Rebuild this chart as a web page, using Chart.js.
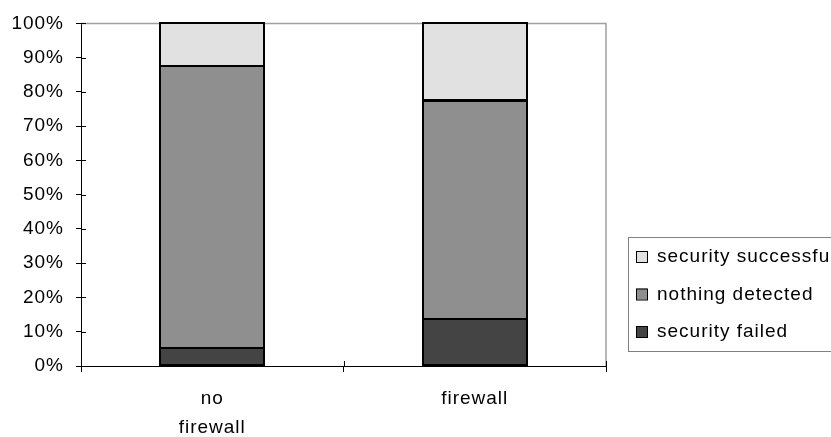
<!DOCTYPE html>
<html>
<head>
<meta charset="utf-8">
<script src="https://cdn.jsdelivr.net/npm/chart.js@4"></script>
<style>
  html, body { margin: 0; padding: 0; background: #fff; }
  #wrap { width: 831px; height: 437px; }
</style>
</head>
<body>
<div id="wrap"><canvas id="secChart" width="831" height="437"></canvas></div>
<script>
// categories and shares (%) per outcome
const categories = [['no', 'firewall'], 'firewall'];
const securityFailed = [5.2, 13.7];
const nothingDetected = [82.3, 63.7];
const securitySuccessful = [12.5, 22.6];
const yTicks = [0, 10, 20, 30, 40, 50, 60, 70, 80, 90, 100];

const FONT = '"Liberation Sans", Arial, sans-serif';
const SPACING = '1px';
Chart.defaults.font.family = FONT;
Chart.defaults.font.size = 19;
Chart.defaults.color = '#000';

// wider glyph spacing, set again after every canvas reset
const spacing = {
  id: 'spacing',
  beforeUpdate(chart) { chart.ctx.letterSpacing = SPACING; },
  beforeDraw(chart) { chart.ctx.letterSpacing = SPACING; }
};

// grey frame on top/right and the inner half of the tick marks
const frame = {
  id: 'frame',
  beforeDatasetsDraw(chart) {
    const { ctx, chartArea: a, scales: { x, y } } = chart;
    ctx.save();
    ctx.strokeStyle = '#a0a0a0';
    ctx.lineWidth = 1.5;
    ctx.beginPath();
    ctx.moveTo(a.left, a.top);
    ctx.lineTo(a.right, a.top);
    ctx.lineTo(a.right, a.bottom);
    ctx.stroke();

    ctx.strokeStyle = '#000';
    ctx.lineWidth = 1;
    ctx.beginPath();
    yTicks.forEach(v => {
      const py = Math.round(y.getPixelForValue(v)) + 0.5;
      ctx.moveTo(a.left, py);
      ctx.lineTo(a.left + 5, py);
    });
    const mid = (x.getPixelForTick(0) + x.getPixelForTick(1)) / 2;
    [a.left, mid, a.right].forEach(px => {
      const p = Math.round(px) + 0.5;
      ctx.moveTo(p, a.bottom);
      ctx.lineTo(p, a.bottom - 5);
    });
    ctx.stroke();
    ctx.restore();
  }
};

// single black outline round every bar segment
const outlines = {
  id: 'outlines',
  afterDatasetsDraw(chart) {
    const ctx = chart.ctx;
    ctx.save();
    ctx.strokeStyle = '#000';
    ctx.lineWidth = 2;
    chart.data.datasets.forEach((ds, i) => {
      chart.getDatasetMeta(i).data.forEach(bar => {
        const { x, y, base, width } = bar.getProps(['x', 'y', 'base', 'width'], true);
        ctx.strokeRect(Math.round(x - width / 2), Math.round(y), Math.round(width), Math.round(base - y));
      });
    });
    ctx.restore();
  }
};

// boxed legend on the right, listed top-down in reverse stack order
const boxLegend = {
  id: 'boxLegend',
  afterDraw(chart) {
    const ctx = chart.ctx;
    ctx.save();
    ctx.letterSpacing = SPACING;
    ctx.strokeStyle = '#808080';
    ctx.lineWidth = 1;
    ctx.strokeRect(628.5, 237.5, 230, 114);
    ctx.font = '19px ' + FONT;
    ctx.textBaseline = 'middle';
    const sets = chart.data.datasets.slice().reverse();
    sets.forEach((ds, i) => {
      const cy = 256 + i * 37.5;
      ctx.fillStyle = ds.backgroundColor;
      ctx.fillRect(636, cy - 5, 11, 11);
      ctx.strokeStyle = '#000';
      ctx.strokeRect(636.5, cy - 4.5, 11, 11);
      ctx.fillStyle = '#000';
      ctx.fillText(ds.label, 657, cy + 1);
    });
    ctx.restore();
  }
};

const barStyle = { borderWidth: 0, barPercentage: 0.396, categoryPercentage: 1 };

new Chart(document.getElementById('secChart'), {
  type: 'bar',
  data: {
    labels: categories,
    datasets: [
      { label: 'security failed', data: securityFailed, backgroundColor: '#444444', ...barStyle },
      { label: 'nothing detected', data: nothingDetected, backgroundColor: '#8f8f8f', ...barStyle },
      { label: 'security successful', data: securitySuccessful, backgroundColor: '#e1e1e1', ...barStyle }
    ]
  },
  options: {
    responsive: false,
    animation: false,
    layout: { padding: { top: 17, right: 225, bottom: 0, left: 0 } },
    plugins: { legend: { display: false }, tooltip: { enabled: false } },
    scales: {
      x: {
        stacked: true,
        grid: { offset: true, drawOnChartArea: false, tickLength: 6, color: '#000' },
        border: { color: '#000', width: 1 },
        ticks: { padding: 12, maxRotation: 0, font: { size: 19, lineHeight: 1.55 } },
        afterFit(s) { s.height = 71; }
      },
      y: {
        stacked: true,
        min: 0,
        max: 100,
        afterBuildTicks(s) { s.ticks = yTicks.map(v => ({ value: v })); },
        grid: { drawOnChartArea: false, tickLength: 5, color: '#000' },
        border: { color: '#000', width: 1 },
        ticks: { padding: 12, callback: v => v + '%' },
        afterFit(s) { s.width = 81; }
      }
    }
  },
  plugins: [spacing, frame, outlines, boxLegend]
});
</script>
</body>
</html>
